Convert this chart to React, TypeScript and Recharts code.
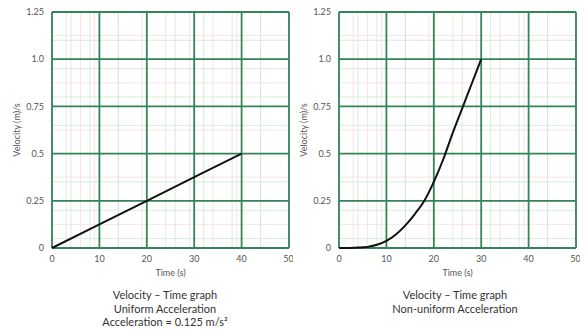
import React from 'react'
import { LineChart, Line, XAxis, YAxis, CartesianGrid } from 'recharts'

const timeTicks = [0, 10, 20, 30, 40, 50]
const velocityTicks = [0, 0.25, 0.5, 0.75, 1.0, 1.25]
const velocityLabels = ['0', '0.25', '0.5', '0.75', '1.0', '1.25']

// uniform acceleration: 0.125 m/s per 10 s
const uniformTime = [0, 10, 20, 30, 40]
const uniformVelocity = [0, 0.125, 0.25, 0.375, 0.5]

// non-uniform acceleration
const curveTime = [0, 2, 4, 6, 8, 10, 12, 14, 16, 18, 20, 22, 24, 26, 28, 30]
const curveVelocity = [0, 0.0005, 0.002, 0.006, 0.017, 0.038, 0.072, 0.12, 0.18, 0.25, 0.35, 0.47, 0.61, 0.74, 0.87, 1.0]

const uniformData = uniformTime.map((t, i) => ({ t, v: uniformVelocity[i] }))
const curveData = curveTime.map((t, i) => ({ t, v: curveVelocity[i] }))

// graph paper lines
const fineX = Array.from({ length: 51 }, (_, i) => i)
const minorX = Array.from({ length: 26 }, (_, i) => i * 2)
const fineY = Array.from({ length: 51 }, (_, i) => i * 0.025)
const minorY = Array.from({ length: 26 }, (_, i) => i * 0.05)

const font = 'Lato, "Open Sans", sans-serif'
const major = '#338556'

type GraphProps = { data: { t: number; v: number }[]; curved?: boolean }

function Graph({ data, curved }: GraphProps) {
  return (
    <LineChart width={293} height={280} data={data} margin={{ top: 12, right: 4, bottom: 0, left: 0 }}>
      <CartesianGrid verticalValues={fineX} horizontalValues={fineY} stroke="#f3d9d9" strokeWidth={0.7} />
      <CartesianGrid verticalValues={minorX} horizontalValues={minorY} stroke="#cfe6d6" strokeWidth={0.8} />
      <CartesianGrid verticalValues={timeTicks} horizontalValues={velocityTicks} stroke={major} strokeWidth={1.8} />
      <XAxis
        dataKey="t"
        type="number"
        domain={[0, 50]}
        ticks={timeTicks}
        height={32}
        axisLine={false}
        tickLine={false}
        tick={{ fontSize: 9, fill: '#555', fontFamily: font }}
        label={{ value: 'Time (s)', position: 'insideBottom', offset: 4, fontSize: 9, fill: '#555', fontFamily: font }}
      />
      <YAxis
        type="number"
        domain={[0, 1.25]}
        ticks={velocityTicks}
        width={52}
        axisLine={false}
        tickLine={false}
        tickFormatter={(v: number) => velocityLabels[velocityTicks.indexOf(v)] ?? String(v)}
        tick={{ fontSize: 9, fill: '#555', fontFamily: font }}
        label={{ value: 'Velocity (m)/s', angle: -90, position: 'insideLeft', offset: 17, fontSize: 9, fill: '#555', fontFamily: font, style: { textAnchor: 'middle' } }}
      />
      <Line
        dataKey="v"
        type={curved ? 'monotone' : 'linear'}
        stroke="#111"
        strokeWidth={2}
        dot={false}
        isAnimationActive={false}
      />
    </LineChart>
  )
}

const titleStyle: React.CSSProperties = {
  position: 'absolute',
  width: 240,
  textAlign: 'center',
  fontFamily: font,
  fontSize: 11,
  lineHeight: '13.5px',
  color: '#333',
}

export default function App() {
  return (
    <div style={{ position: 'absolute', left: 0, top: 0, width: 586, height: 330, background: '#fff' }}>
      <div style={{ position: 'absolute', left: 0, top: 0 }}>
        <Graph data={uniformData} />
      </div>
      <div style={{ position: 'absolute', left: 287, top: 0 }}>
        <Graph data={curveData} curved />
      </div>
      <div style={{ ...titleStyle, left: 45, top: 288 }}>
        <div>Velocity – Time graph</div>
        <div>Uniform Acceleration</div>
        <div>Acceleration = 0.125 m/s²</div>
      </div>
      <div style={{ ...titleStyle, left: 335, top: 288 }}>
        <div>Velocity – Time graph</div>
        <div>Non-uniform Acceleration</div>
      </div>
    </div>
  )
}
